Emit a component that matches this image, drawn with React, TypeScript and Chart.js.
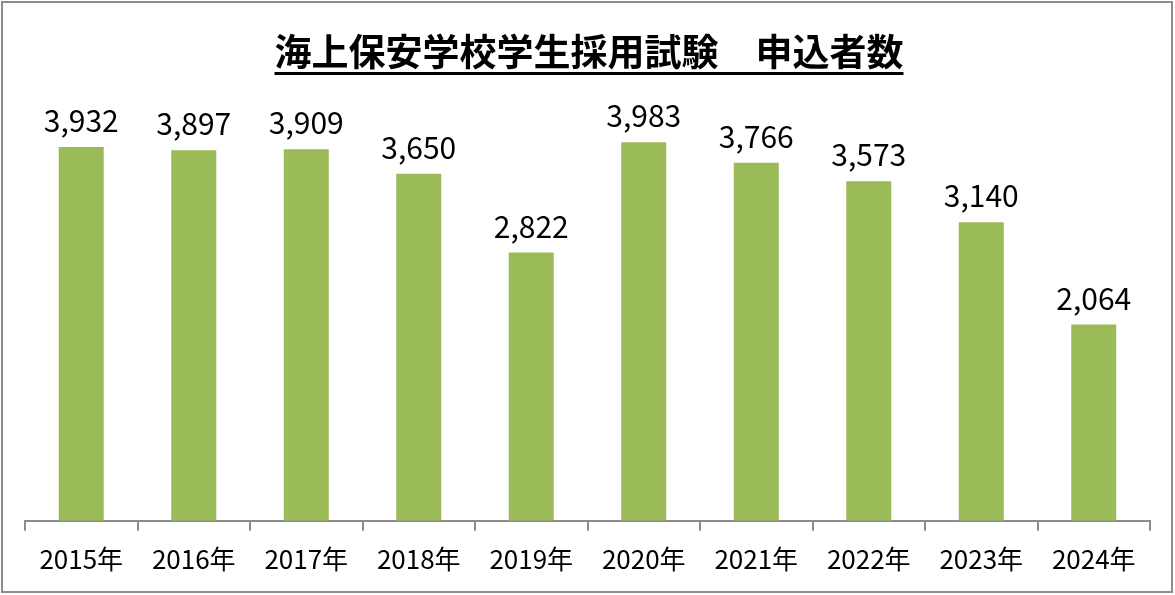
import React, { useEffect, useRef } from "react";
import { Chart, registerables } from "chart.js";

Chart.register(...registerables);

const TITLE = "海上保安学校学生採用試験　申込者数";
const categories = ["2015年", "2016年", "2017年", "2018年", "2019年", "2020年", "2021年", "2022年", "2023年", "2024年"];
const applicants = [3932, 3897, 3909, 3650, 2822, 3983, 3766, 3573, 3140, 2064];

const FONT = "'Noto Sans CJK JP', 'Noto Sans', sans-serif";

const titlePlugin = {
  id: "ulTitle",
  afterDraw(chart: any) {
    const ctx = chart.ctx;
    ctx.save();
    ctx.font = `bold 37px ${FONT}`;
    ctx.fillStyle = "#000";
    ctx.textAlign = "center";
    ctx.textBaseline = "middle";
    const cx = 589;
    const cy = 52;
    ctx.fillText(TITLE, cx, cy);
    const w = ctx.measureText(TITLE).width;
    ctx.fillRect(cx - w / 2, 72, w, 3);
    ctx.restore();
  },
};

const labelPlugin = {
  id: "barLabels",
  afterDatasetsDraw(chart: any) {
    const ctx = chart.ctx;
    const meta = chart.getDatasetMeta(0);
    ctx.save();
    ctx.font = `30px ${FONT}`;
    ctx.fillStyle = "#000";
    ctx.textAlign = "center";
    ctx.textBaseline = "alphabetic";
    meta.data.forEach((bar: any, i: number) => {
      ctx.fillText(applicants[i].toLocaleString("en-US"), bar.x, bar.y - 15);
    });
    ctx.restore();
  },
};

export default function App() {
  const ref = useRef<HTMLCanvasElement>(null);
  useEffect(() => {
    if (!ref.current) return;
    const chart = new Chart(ref.current, {
      type: "bar",
      data: {
        labels: categories,
        datasets: [
          {
            data: applicants,
            backgroundColor: "#9BBB59",
            categoryPercentage: 1,
            barPercentage: 0.4,
          },
        ],
      },
      options: {
        responsive: false,
        animation: false,
        layout: { padding: { top: 93, left: 25, right: 25, bottom: 7 } },
        plugins: { legend: { display: false }, tooltip: { enabled: false }, title: { display: false } },
        scales: {
          y: { display: false, min: 0, max: 4500 },
          x: {
            grid: {
              display: true,
              drawOnChartArea: false,
              offset: true,
              tickLength: 10,
              color: "#8c8c8c",
              lineWidth: 2,
            },
            border: { display: true, color: "#8c8c8c", width: 2 },
            ticks: {
              color: "#000",
              padding: 13,
              maxRotation: 0,
              font: { family: FONT, size: 26 },
            },
          },
        },
      },
      plugins: [titlePlugin, labelPlugin],
    });
    return () => chart.destroy();
  }, []);
  return (
    <div style={{ position: "fixed", left: 0, top: 0, width: 1175, height: 595, background: "#fff" }}>
      <canvas ref={ref} width={1175} height={595} style={{ position: "absolute", left: 0, top: 0 }} />
      <div
        style={{
          position: "absolute",
          left: 1,
          top: 1,
          width: 1172,
          height: 592,
          border: "2px solid #8c8c8c",
          boxSizing: "border-box",
          pointerEvents: "none",
        }}
      />
    </div>
  );
}
